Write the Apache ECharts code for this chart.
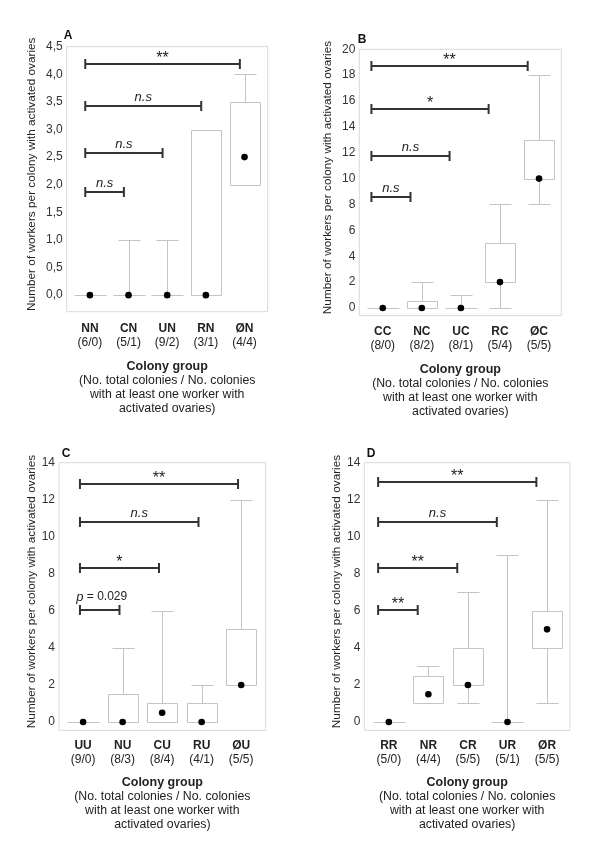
<!DOCTYPE html>
<html><head><meta charset="utf-8">
<script src="https://cdn.jsdelivr.net/npm/echarts@6/dist/echarts.min.js"></script>
<style>html,body{margin:0;padding:0;background:#fff}#c{width:600px;height:856px}</style>
</head><body><div id="c"></div>
<script>
// ---------- text ----------
const yTitle = 'Number of workers per colony with activated ovaries';
const xTitle = 'Colony group';
const xSubtitle = ['(No. total colonies / No. colonies', 'with at least one worker with', 'activated ovaries)'];
const panelLetters = ['A', 'B', 'C', 'D'];

// ---------- panel A ----------
const catsA = ['NN', 'CN', 'UN', 'RN', 'ØN'];
const countsA = ['(6/0)', '(5/1)', '(9/2)', '(3/1)', '(4/4)'];
// [min, q1, median, q3, max]
const boxA = [[0,0,0,0,0],[0,0,0,0,1],[0,0,0,0,1],[0,0,0,3,3],[2,2,2.5,3.5,4]];
const bracketsA = [[0,1,1.86],[0,2,2.58],[0,3,3.42],[0,4,4.18]];
const bracketLabelsA = ['n.s', 'n.s', 'n.s', '**'];
const yTicksA = [0, 0.5, 1, 1.5, 2, 2.5, 3, 3.5, 4, 4.5];

// ---------- panel B ----------
const catsB = ['CC', 'NC', 'UC', 'RC', 'ØC'];
const countsB = ['(8/0)', '(8/2)', '(8/1)', '(5/4)', '(5/5)'];
const boxB = [[0,0,0,0,0],[0,0,0,0.5,2],[0,0,0,0,1],[0,2,2,5,8],[8,10,10,13,18]];
const bracketsB = [[0,1,8.55],[0,2,11.78],[0,3,15.35],[0,4,18.7]];
const bracketLabelsB = ['n.s', 'n.s', '*', '**'];
const yTicksB = [0, 2, 4, 6, 8, 10, 12, 14, 16, 18, 20];

// ---------- panel C ----------
const catsC = ['UU', 'NU', 'CU', 'RU', 'ØU'];
const countsC = ['(9/0)', '(8/3)', '(8/4)', '(4/1)', '(5/5)'];
const boxC = [[0,0,0,0,0],[0,0,0,1.5,4],[0,0,0.5,1,6],[0,0,0,1,2],[2,2,2,5,12]];
const bracketsC = [[0,1,6.06],[0,2,8.31],[0,3,10.82],[0,4,12.86]];
const bracketLabelsC = ['p = 0.029', '*', 'n.s', '**'];
const yTicksC = [0, 2, 4, 6, 8, 10, 12, 14];

// ---------- panel D ----------
const catsD = ['RR', 'NR', 'CR', 'UR', 'ØR'];
const countsD = ['(5/0)', '(4/4)', '(5/5)', '(5/1)', '(5/5)'];
const boxD = [[0,0,0,0,0],[1,1,1.5,2.5,3],[1,2,2,4,7],[0,0,0,0,9],[1,4,5,6,12]];
const bracketsD = [[0,1,6.02],[0,2,8.29],[0,3,10.78],[0,4,12.95]];
const bracketLabelsD = ['**', '**', 'n.s', '**'];
const yTicksD = [0, 2, 4, 6, 8, 10, 12, 14];

// ---------- layout (positions / styles) ----------
const FONT = 'Liberation Sans, Arial, Helvetica, sans-serif';
const layouts = [
  { grid: {left: 66.7, top: 46.7, width: 201, height: 265}, yMin: -0.3, yMax: 4.5, xMin: -0.6, xMax: 4.6,
    yNameGap: 29, labelMargin: 10, xNameGap: 48, shift: -0.12, letter: [68, 36], comma: true },
  { grid: {left: 359.3, top: 49.3, width: 202, height: 266.4}, yMin: -0.6, yMax: 20, xMin: -0.6, xMax: 4.57,
    yNameGap: 26, labelMargin: 9, xNameGap: 47, shift: -0.29, letter: [362, 40], comma: false },
  { grid: {left: 59, top: 462.7, width: 206.7, height: 267.6}, yMin: -0.45, yMax: 14, xMin: -0.61, xMax: 4.62,
    yNameGap: 21, labelMargin: 8, xNameGap: 45, shift: -0.08, letter: [66, 453.5], comma: false },
  { grid: {left: 364.3, top: 462.7, width: 205.7, height: 267.6}, yMin: -0.45, yMax: 14, xMin: -0.62, xMax: 4.58,
    yNameGap: 21, labelMargin: 8, xNameGap: 45, shift: -0.27, letter: [371, 453.5], comma: false }
];

const panels = [
  {cats: catsA, counts: countsA, box: boxA, brackets: bracketsA, labels: bracketLabelsA, yTicks: yTicksA},
  {cats: catsB, counts: countsB, box: boxB, brackets: bracketsB, labels: bracketLabelsB, yTicks: yTicksB},
  {cats: catsC, counts: countsC, box: boxC, brackets: bracketsC, labels: bracketLabelsC, yTicks: yTicksC},
  {cats: catsD, counts: countsD, box: boxD, brackets: bracketsD, labels: bracketLabelsD, yTicks: yTicksD}
];

const BOX_COLOR = '#c4c4c4';
const BRACKET_COLOR = '#333';

function renderBox(params, api) {
  const x = api.value(0);
  const mn = api.value(1), q1 = api.value(2), md = api.value(3), q3 = api.value(4), mx = api.value(5);
  const pMin = api.coord([x, mn]), pQ1 = api.coord([x, q1]), pMd = api.coord([x, md]);
  const pQ3 = api.coord([x, q3]), pMax = api.coord([x, mx]);
  const cx = Math.round(pMd[0]) + 0.5;
  const hw = 15, cw = 11;
  const st = {stroke: BOX_COLOR, lineWidth: 1, fill: null};
  const r = v => Math.round(v) + 0.5;
  const ch = [];
  if (mx > q3) {
    ch.push({type: 'line', shape: {x1: cx, y1: r(pQ3[1]), x2: cx, y2: r(pMax[1])}, style: st});
    ch.push({type: 'line', shape: {x1: cx - cw, y1: r(pMax[1]), x2: cx + cw, y2: r(pMax[1])}, style: st});
  }
  if (mn < q1) {
    ch.push({type: 'line', shape: {x1: cx, y1: r(pQ1[1]), x2: cx, y2: r(pMin[1])}, style: st});
    ch.push({type: 'line', shape: {x1: cx - cw, y1: r(pMin[1]), x2: cx + cw, y2: r(pMin[1])}, style: st});
  }
  if (q3 > q1) {
    ch.push({type: 'rect', shape: {x: cx - hw, y: r(pQ3[1]), width: 2 * hw, height: r(pQ1[1]) - r(pQ3[1])},
      style: {stroke: BOX_COLOR, lineWidth: 1, fill: '#fff'}});
  } else {
    ch.push({type: 'line', shape: {x1: cx - hw - 1, y1: r(pQ1[1]), x2: cx + hw + 1, y2: r(pQ1[1])}, style: st});
  }
  ch.push({type: 'circle', shape: {cx: pMd[0], cy: pMd[1], r: 3.3}, style: {fill: '#000'}});
  return {type: 'group', children: ch};
}

function makeBracketRender(labels, shift) {
  return function (params, api) {
    const y = api.value(2);
    const a = api.coord([api.value(0) + shift, y]);
    const b = api.coord([api.value(1) + shift, y]);
    const yy = Math.round(a[1]);
    const st = {stroke: BRACKET_COLOR, lineWidth: 2};
    const lab = labels[params.dataIndex];
    const mid = (a[0] + b[0]) / 2;
    let textEl;
    if (lab === 'n.s') {
      textEl = {type: 'text', style: {text: 'n.s', x: mid, y: yy - 9, align: 'center', verticalAlign: 'middle',
        font: 'italic 13px ' + FONT, fill: '#222'}};
    } else if (lab.indexOf('p') === 0) {
      textEl = {type: 'text', style: {text: '{i|p} = 0.029', x: mid + 2, y: yy - 13, align: 'center', verticalAlign: 'middle',
        font: '12px ' + FONT, fill: '#222', rich: {i: {fontStyle: 'italic', fontSize: 13, fontFamily: FONT}}}};
    } else {
      textEl = {type: 'text', style: {text: lab, x: mid, y: yy - 5, align: 'center', verticalAlign: 'middle',
        font: '16px ' + FONT, fill: '#222'}};
    }
    return {type: 'group', children: [
      {type: 'line', shape: {x1: a[0], y1: yy, x2: b[0], y2: yy}, style: st},
      {type: 'line', shape: {x1: a[0], y1: yy - 5, x2: a[0], y2: yy + 5}, style: st},
      {type: 'line', shape: {x1: b[0], y1: yy - 5, x2: b[0], y2: yy + 5}, style: st},
      textEl
    ]};
  };
}

const grids = [], xAxes = [], yAxes = [], series = [], graphics = [];
panels.forEach((p, k) => {
  const L = layouts[k];
  grids.push(Object.assign({show: true, borderColor: '#d9d9d9', borderWidth: 1, backgroundColor: 'transparent'}, L.grid));
  xAxes.push({
    type: 'value', gridIndex: k, min: L.xMin, max: L.xMax,
    axisLine: {show: false}, axisTick: {show: false}, splitLine: {show: false},
    axisLabel: {
      customValues: [0, 1, 2, 3, 4], margin: L.labelMargin, color: '#222',
      formatter: v => '{b|' + p.cats[Math.round(v)] + '}\n{n|' + p.counts[Math.round(v)] + '}',
      rich: {
        b: {fontWeight: 'bold', fontSize: 12, fontFamily: FONT, lineHeight: 14, color: '#222'},
        n: {fontSize: 12, fontFamily: FONT, lineHeight: 14, color: '#222'}
      }
    },
    name: '{t|' + xTitle + '}\n' + xSubtitle.map(s => '{s|' + s + '}').join('\n'),
    nameLocation: 'middle', nameGap: L.xNameGap,
    nameTextStyle: {
      rich: {
        t: {fontWeight: 'bold', fontSize: 12.5, fontFamily: FONT, lineHeight: 14, color: '#222'},
        s: {fontSize: 12.3, fontFamily: FONT, lineHeight: 14, color: '#222'}
      }
    }
  });
  yAxes.push({
    type: 'value', gridIndex: k, min: L.yMin, max: L.yMax,
    axisLine: {show: false}, axisTick: {show: false}, splitLine: {show: false},
    axisLabel: {
      customValues: p.yTicks, margin: 4, color: '#333', fontSize: 12, fontFamily: FONT,
      formatter: v => L.comma ? v.toFixed(1).replace('.', ',') : String(v)
    },
    name: yTitle, nameLocation: 'middle', nameGap: L.yNameGap,
    nameTextStyle: {fontSize: 11.8, fontFamily: FONT, color: '#222', padding: [0, 0, 0, 10]}
  });
  series.push({
    type: 'custom', xAxisIndex: k, yAxisIndex: k, renderItem: renderBox,
    data: p.box.map((b, i) => [i].concat(b)), silent: true, clip: false
  });
  series.push({
    type: 'custom', xAxisIndex: k, yAxisIndex: k, renderItem: makeBracketRender(p.labels, L.shift),
    data: p.brackets.map(b => b.slice()), silent: true, clip: false
  });
  graphics.push({type: 'text', x: L.letter[0], y: L.letter[1],
    style: {text: panelLetters[k], font: 'bold 12px ' + FONT, fill: '#111', align: 'center', verticalAlign: 'middle'}});
});

const chart = echarts.init(document.getElementById('c'), null, {renderer: 'canvas'});
chart.setOption({
  backgroundColor: '#fff',
  animation: false,
  grid: grids, xAxis: xAxes, yAxis: yAxes, series: series, graphic: graphics
});
</script>
</body></html>
